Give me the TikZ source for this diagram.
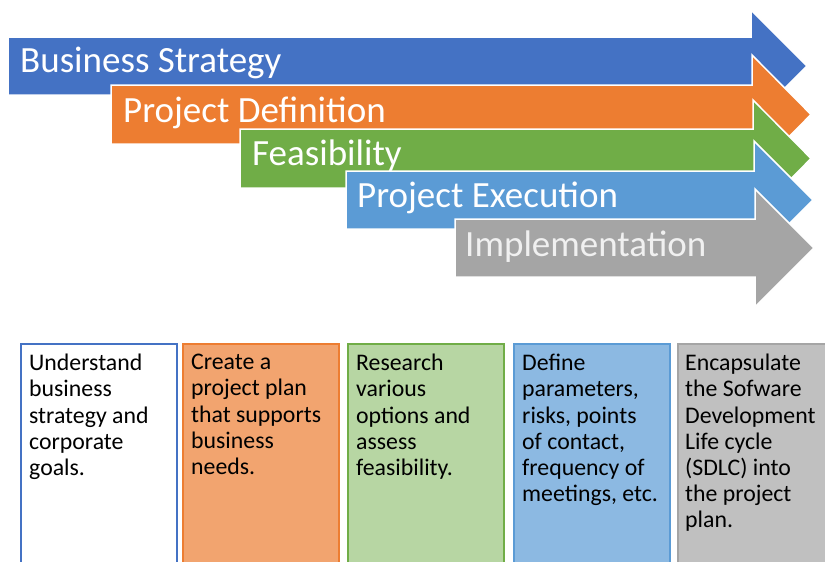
\documentclass[tikz,border=0pt]{standalone}
\usepackage{fontspec}
\setmainfont{Carlito}
\usetikzlibrary{positioning}

\definecolor{stratblue}{HTML}{4472C4}
\definecolor{defnorange}{HTML}{ED7D31}
\definecolor{feasgreen}{HTML}{70AD47}
\definecolor{execblue}{HTML}{5B9BD5}
\definecolor{implgray}{HTML}{A5A5A5}

\tikzset {
    phase/.style={
        draw=white,
        line width=1.5pt,
        line join=miter,
    },
    phase label/.style={
        anchor=base west,
        inner sep=0pt,
        text=white,
        font=\fontsize{37}{40}\selectfont,
    },
    task box/.style={
        rectangle, % Set the shape as a rectangle
        line width=2.2pt,
        minimum width=156pt,
        minimum height=232pt,
        anchor=north west,
        inner sep=0pt,
    },
    task text/.style={
        anchor=north west,
        inner sep=0pt,
        align=left,
        font=\fontsize{23.8}{26.2}\selectfont,
    },
}

\begin{document}
\begin{tikzpicture}[x=1pt, y=-1pt]
    \useasboundingbox (0,0) rectangle (825,562);

    % phase arrows, back to front
    \path[phase, fill=stratblue] (8,37) -- (751,37) -- (751,10) -- (807,66) -- (751,122) -- (751,95) -- (8,95) -- cycle;
    \node[phase label] (strategy) at (20,72) {Business Strategy};

    \path[phase, fill=defnorange] (111,85) -- (752,85) -- (752,55) -- (811,114.5) -- (752,174) -- (752,144) -- (111,144) -- cycle;
    \node[phase label] (definition) at (123,122) {Project Definition};

    \path[phase, fill=feasgreen] (240,129) -- (753,129) -- (753,100) -- (811,158.5) -- (753,217) -- (753,188) -- (240,188) -- cycle;
    \node[phase label] (feasibility) at (252,165) {Feasibility};

    \path[phase, fill=execblue] (346,171) -- (754,171) -- (754,141) -- (813,200) -- (754,259) -- (754,229) -- (346,229) -- cycle;
    \node[phase label] (execution) at (357,207) {Project Execution};

    \path[phase, fill=implgray] (455,219) -- (755,219) -- (755,189) -- (814,248) -- (755,307) -- (755,277) -- (455,277) -- cycle;
    \node[phase label, text=white!94!black] (implementation) at (465,256) {Implementation};

    % task boxes
    \node[task box, draw=stratblue, fill=white] (goalsbox) at (20,343) {};
    \node[task box, draw=defnorange, fill=defnorange!70!white] (planbox) at (182,343) {};
    \node[task box, draw=feasgreen, fill=feasgreen!50!white] (optionsbox) at (347,343) {};
    \node[task box, draw=execblue, fill=execblue!70!white] (paramsbox) at (513,343) {};
    \node[task box, draw=implgray, fill=implgray!70!white] (sdlcbox) at (677,343) {};

    \node[task text] (goals) at (29,354) {Understand\\business\\strategy and\\corporate\\goals.};
    \node[task text] (plan) at (191,354) {Create a\\project plan\\that supports\\business\\needs.};
    \node[task text] (options) at (356,354) {Research\\various\\options and\\assess\\feasibility.};
    \node[task text] (params) at (522,354) {Define\\parameters,\\risks, points\\of contact,\\frequency of\\meetings, etc.};
    \node[task text] (sdlc) at (685,354) {Encapsulate\\the Sofware\\Development\\Life cycle\\(SDLC) into\\the project\\plan.};
\end{tikzpicture}
\end{document}
